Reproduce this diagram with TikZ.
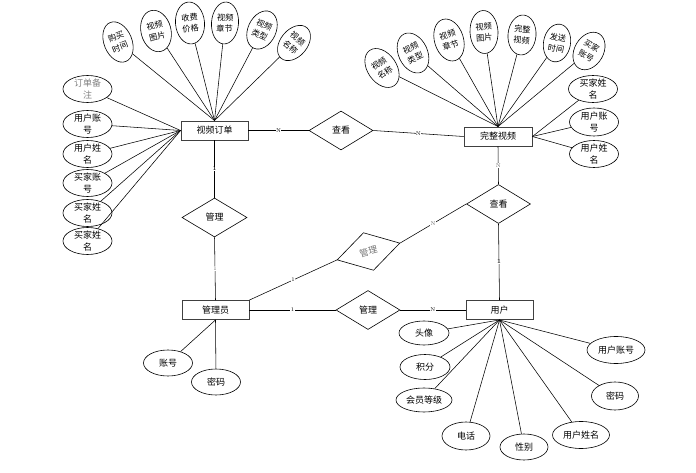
\documentclass[tikz,border=0pt]{standalone}
\usepackage{fontspec}
\newfontfamily\cjk{Noto Sans CJK SC}
\usetikzlibrary{shapes.geometric}
\tikzset{
 ent/.style={draw=black!75, line width=0.9pt, minimum width=67pt, minimum height=19pt, inner sep=0pt, font=\cjk\fontsize{9}{11}\selectfont},
 rel/.style={diamond, draw, line width=0.6pt, minimum width=64pt, minimum height=39pt, inner sep=0pt, font=\cjk\fontsize{9}{11}\selectfont},
 ell/.style={ellipse, draw, line width=0.6pt, inner sep=0pt},
 etxt/.style={inner sep=0pt, align=center, font=\cjk\fontsize{9}{12.3}\selectfont},
 ftxt/.style={inner sep=0pt, align=center, font=\cjk\fontsize{8.2}{11}\selectfont},
 gtxt/.style={etxt, text=black!50},
 conn/.style={line width=0.55pt},
 card/.style={font=\fontsize{5.5}{5.5}\selectfont, inner sep=0.4pt, fill=white},
}
\newcommand\attrnode[8]{%
 \node[ell, minimum width=#5pt, minimum height=#6pt, rotate=#4] (#1) at (#2,#3) {};
 \node[#8, rotate=#4] (#1t) at (#2,#3) {#7};
}
\begin{document}
\begin{tikzpicture}[x=1pt,y=-1pt]
\useasboundingbox (0,0) rectangle (696,473);
% entities
\node[ent] (vo) at (214.5,130.5) {视频订单};
\node[ent, minimum width=68pt] (cv) at (498,136.5) {完整视频};
\node[ent] (gly) at (215.5,310) {管理员};
\node[ent] (yh) at (499.5,310) {用户};
% relations
\node[rel] (ck1) at (341,130.5) {查看};
\node[rel, minimum width=65pt] (gl1) at (214.5,217.5) {管理};
\node[rel, minimum width=65pt, rotate=15, text=black!55] (gl2) at (368.5,251.5) {管理};
\node[rel] (ck2) at (498.5,204) {查看};
\node[rel] (gl3) at (368,310) {管理};
% relation connectors
\draw[conn] (vo.east) -- node[card]{N} (ck1.west);
\draw[conn] (ck1.east) -- node[card]{N} (cv.west);
\draw[conn] (vo.south) -- node[card,font=\bfseries\fontsize{5.5}{5.5}\selectfont]{1} (gl1.north);
\draw[conn] (gl1.south) -- node[card,text=black!60]{1} (gly.north);
\draw[conn] (gly.north east) -- node[card]{1} (gl2.west);
\draw[conn] (gl2.east) -- node[card,text=black!60]{N} (ck2.west);
\draw[conn] (cv.south) -- node[card,text=black!60]{N} (ck2.north);
\draw[conn] (ck2.south) -- node[card,font=\bfseries\fontsize{5.5}{5.5}\selectfont]{1} (yh.north);
\draw[conn] (gly.east) -- node[card]{1} (gl3.west);
\draw[conn] (gl3.east) -- node[card]{N} (yh.west);
% top-left fan (视频订单)
\attrnode{tla}{118}{42}{22}{28}{42}{购买\\时间}{ftxt}
\attrnode{tlb}{156}{31}{14}{30}{42}{视频\\图片}{ftxt}
\attrnode{tlc}{190}{23}{5}{29}{42}{收费\\价格}{ftxt}
\attrnode{tld}{225}{23}{-4}{27}{42}{视频\\章节}{ftxt}
\attrnode{tle}{262}{30}{-25}{28}{40}{视频\\类型}{ftxt}
\attrnode{tlf}{294}{43}{-40}{27}{40}{视频\\名称}{ftxt}
\foreach \n in {tla,tlb,tlc,tld,tle,tlf} \draw[conn] (\n) -- (vo.north);
% left of 视频订单
\attrnode{la}{87.5}{89}{0}{49}{27}{订单备\\注}{gtxt}
\attrnode{lb}{87.5}{124}{0}{49}{27}{用户账\\号}{etxt}
\attrnode{lc}{87.5}{154}{0}{49}{27}{用户姓\\名}{etxt}
\attrnode{ld}{87.5}{183}{0}{49}{27}{买家账\\号}{etxt}
\attrnode{le}{87.5}{213}{0}{49}{27}{买家姓\\名}{etxt}
\attrnode{lf}{87.5}{241}{0}{49}{27}{买家姓\\名}{etxt}
\foreach \n in {la,lb,lc,ld,le,lf} \draw[conn] (\n) -- (vo.west);
% top-right fan (完整视频)
\attrnode{tra}{382}{68}{35}{29}{43}{视频\\名称}{ftxt}
\attrnode{trb}{413}{53}{25}{29}{42}{视频\\类型}{ftxt}
\attrnode{trc}{449}{40}{17}{29}{43}{视频\\章节}{ftxt}
\attrnode{trd}{484}{32}{3}{28}{43}{视频\\图片}{ftxt}
\attrnode{tre}{522}{35}{-5}{28}{40}{完整\\视频}{ftxt}
\attrnode{trf}{557}{43}{-10}{27}{38}{发送\\时间}{ftxt}
\attrnode{trg}{589}{51}{-30}{29}{40}{买家\\账号}{ftxt}
\foreach \n in {tra,trb,trc,trd,tre,trf,trg} \draw[conn] (\n) -- (cv.north);
% right of 完整视频
\attrnode{ra}{593}{89}{0}{49}{27}{买家姓\\名}{etxt}
\attrnode{rb}{594}{122}{0}{49}{28}{用户账\\号}{etxt}
\attrnode{rc}{594}{154}{0}{49}{27}{用户姓\\名}{etxt}
\foreach \n in {ra,rb,rc} \draw[conn] (\n) -- (cv.east);
% 管理员 attributes
\attrnode{ga}{168}{363}{0}{49}{26}{账号}{etxt}
\attrnode{gb}{216}{382}{0}{49}{26}{密码}{etxt}
\foreach \n in {ga,gb} \draw[conn] (\n) -- (gly.south);
% 用户 attributes
\attrnode{ua}{424}{333}{0}{50}{24}{头像}{etxt}
\attrnode{ub}{425}{367}{0}{50}{25}{积分}{etxt}
\attrnode{uc}{424}{400}{0}{56}{24}{会员等级}{etxt}
\attrnode{ud}{466}{436}{0}{48}{28}{电话}{etxt}
\attrnode{ue}{524}{447}{0}{48}{26}{性别}{etxt}
\attrnode{uf}{581}{435}{0}{57}{27}{用户姓名}{etxt}
\attrnode{ug}{615}{396}{0}{47}{28}{密码}{etxt}
\attrnode{uh}{616}{350}{0}{58}{27}{用户账号}{etxt}
\foreach \n in {ua,ub,uc,ud,ue,uf,ug,uh} \draw[conn] (\n) -- (yh.south);
\end{tikzpicture}
\end{document}
